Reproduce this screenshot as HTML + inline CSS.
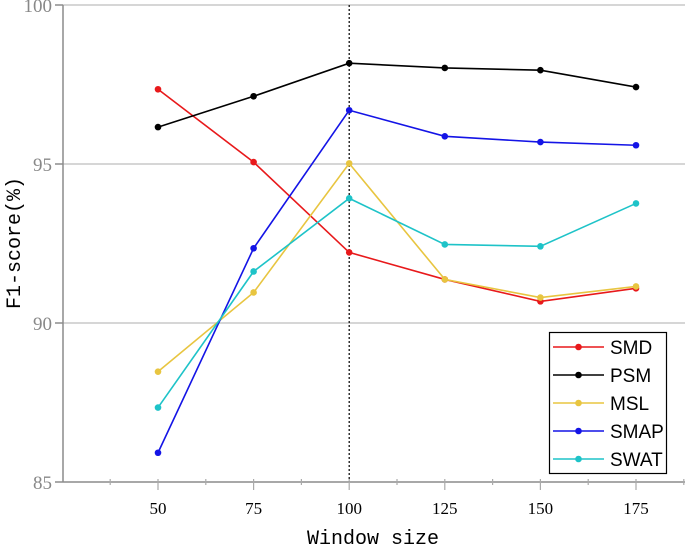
<!DOCTYPE html>
<html><head><meta charset="utf-8"><style>
html,body{margin:0;padding:0;background:#fff;}
svg{display:block;}
</style></head><body>
<svg id="chart" width="685" height="545" xmlns="http://www.w3.org/2000/svg">
<g id="grid"></g>
<g id="axes"></g>
<g id="series"></g>
<text transform="translate(20,243) rotate(-90)" text-anchor="middle" font-family="Liberation Mono, monospace" font-size="20" fill="#000">F1-score(%)</text>
<text x="373" y="544" text-anchor="middle" font-family="Liberation Mono, monospace" font-size="20" fill="#000">Window size</text>
<g id="legend"></g>
</svg>
<script>
const categories = [50, 75, 100, 125, 150, 175];
const yTicks = [85, 90, 95, 100];
const seriesNames = ["SMD", "PSM", "MSL", "SMAP", "SWAT"];
const seriesColors = ["#e8191b", "#000000", "#e8c540", "#1414e6", "#1ec3c8"];
const smd = [97.35, 95.06, 92.22, 91.37, 90.68, 91.09];
const psm = [96.16, 97.13, 98.17, 98.02, 97.95, 97.42];
const msl = [88.47, 90.96, 95.02, 91.37, 90.80, 91.15];
const smap = [85.92, 92.35, 96.69, 95.87, 95.69, 95.59];
const swat = [87.34, 91.62, 93.92, 92.47, 92.41, 93.76];
const allSeries = [smd, psm, msl, smap, swat];

const NS = "http://www.w3.org/2000/svg";
const X0 = 63, X1 = 685, Y0 = 482, Y1 = 5;
function xs(v){ return 158 + (v - 50) * (636 - 158) / 125; }
function ys(v){ return 482 - (v - 85) * (482 - 5) / 15; }
function mk(tag, attrs, parent){ const e = document.createElementNS(NS, tag); for (const k in attrs) e.setAttribute(k, attrs[k]); parent.appendChild(e); return e; }

const grid = document.getElementById('grid');
yTicks.forEach(t => {
  if (t === 85) return;
  const l = mk('line', {x1: X0, x2: X1, y1: ys(t), y2: ys(t), stroke: '#c8c8c8', 'stroke-width': 1.5}, grid);
  
  
});
const vline = mk('line', {x1: xs(100), x2: xs(100), y1: Y1, y2: Y0, stroke: '#000', 'stroke-width': 1.2, 'stroke-dasharray': '2,2'}, grid);



const axes = document.getElementById('axes');
const ya = mk('line', {x1: X0, x2: X0, y1: Y1, y2: Y0, stroke: '#8c8c8c', 'stroke-width': 1.5}, axes);


const xa = mk('line', {x1: X0, x2: X1, y1: Y0, y2: Y0, stroke: '#8c8c8c', 'stroke-width': 1.5}, axes);


yTicks.forEach(t => {
  mk('line', {x1: X0 - 8, x2: X0, y1: ys(t), y2: ys(t), stroke: '#8c8c8c', 'stroke-width': 1.5}, axes);
  const tx = mk('text', {x: X0 - 11, y: ys(t) + 7, 'text-anchor': 'end', 'font-family': 'Liberation Serif, serif', 'font-size': 19, fill: '#888'}, axes);
  tx.textContent = t;
  
  
});
for (let v = 37.5; v <= 187.5; v += 12.5) {
  const x = xs(v);
  if (x < X0 + 2 || x > X1) continue;
  const major = categories.includes(v);
  mk('line', {x1: x, x2: x, y1: Y0 - 3, y2: Y0 + (major ? 8 : 3), stroke: '#aaa', 'stroke-width': 1.2}, axes);
}
categories.forEach(c => {
  const tx = mk('text', {x: xs(c), y: 514, 'text-anchor': 'middle', 'font-family': 'Liberation Serif, serif', 'font-size': 17, fill: '#000'}, axes);
  tx.textContent = c;
  
  
});

const sg = document.getElementById('series');
allSeries.forEach((s, i) => {
  const g = mk('g', {}, sg);
  
  
  const pts = s.map((v, j) => xs(categories[j]) + ',' + ys(v)).join(' ');
  const pl = mk('polyline', {points: pts, fill: 'none', stroke: seriesColors[i], 'stroke-width': 1.6}, g);
  
  
  s.forEach((v, j) => {
    const c = mk('circle', {cx: xs(categories[j]), cy: ys(v), r: 3.3, fill: seriesColors[i]}, g);
    
    
  });
});

const lg = document.getElementById('legend');
const box = mk('rect', {x: 549.5, y: 332.5, width: 117, height: 141, fill: '#fff', stroke: '#000', 'stroke-width': 1.2}, lg);


seriesNames.forEach((n, i) => {
  const y = 347 + i * 28;
  const g = mk('g', {}, lg);
  
  
  mk('line', {x1: 553, x2: 604, y1: y, y2: y, stroke: seriesColors[i], 'stroke-width': 1.5}, g);
  mk('circle', {cx: 578.5, cy: y, r: 3.3, fill: seriesColors[i]}, g);
  const t = mk('text', {x: 610, y: y + 7, 'font-family': 'Liberation Sans, sans-serif', 'font-size': 19, fill: '#000'}, g);
  t.textContent = n;
});
</script>
</body></html>
